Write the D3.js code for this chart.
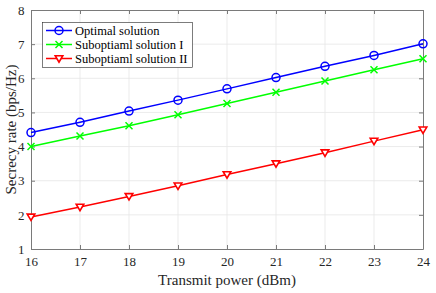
<!DOCTYPE html>
<html><head><meta charset="utf-8">
<script src="https://cdn.jsdelivr.net/npm/d3@7"></script>
<style>body{margin:0;background:#fff}svg{display:block}</style>
</head><body>
<script>
const xValues = [16,17,18,19,20,21,22,23,24];
const optimal = [4.41,4.71,5.04,5.36,5.69,6.02,6.35,6.67,7.01];
const subopt1 = [4.00,4.31,4.61,4.93,5.26,5.59,5.92,6.25,6.57];
const subopt2 = [1.94,2.23,2.54,2.85,3.18,3.50,3.82,4.16,4.49];
const seriesNames = ["Optimal solution","Suboptiaml solution I","Suboptiaml solution II"];
const xTicks = [16,17,18,19,20,21,22,23,24];
const yTicks = [1,2,3,4,5,6,7,8];

const W=436,H=293;
const m={l:31,r:13,t:10,b:44};
const svg=d3.select("body").append("svg").attr("width",W).attr("height",H);
const x=d3.scaleLinear().domain([16,24]).range([m.l,W-m.r]);
const y=d3.scaleLinear().domain([1,8]).range([H-m.b,m.t]);
const font="Liberation Serif, Times New Roman, serif";
const axCol="#7a7a7a";

// grid
svg.append("g").selectAll("line").data(xTicks.slice(1,-1)).join("line")
  .attr("x1",d=>x(d)).attr("x2",d=>x(d)).attr("y1",y(1)).attr("y2",y(8))
  .attr("stroke","#e6e6e6").attr("stroke-width",0.8);
svg.append("g").selectAll("line").data(yTicks.slice(1,-1)).join("line")
  .attr("y1",d=>y(d)).attr("y2",d=>y(d)).attr("x1",x(16)).attr("x2",x(24))
  .attr("stroke","#e6e6e6").attr("stroke-width",0.8);

// axes
const tickStyle=g=>{g.select(".domain").attr("stroke",axCol);g.selectAll(".tick line").attr("stroke",axCol);
  g.selectAll(".tick text").attr("fill","#262626").style("font-family",font).style("font-size","13px");};
svg.append("g").attr("transform",`translate(0,${y(1)})`)
  .call(d3.axisBottom(x).tickValues(xTicks).tickFormat(d3.format("d")).tickSize(-4).tickPadding(8).tickSizeOuter(0)).call(tickStyle);
svg.append("g").attr("transform",`translate(0,${y(8)})`)
  .call(d3.axisTop(x).tickValues(xTicks).tickSize(-4).tickFormat("").tickSizeOuter(0)).call(tickStyle);
svg.append("g").attr("transform",`translate(${x(16)},0)`)
  .call(d3.axisLeft(y).tickValues(yTicks).tickFormat(d3.format("d")).tickSize(-4).tickPadding(6.5).tickSizeOuter(0)).call(tickStyle);
svg.append("g").attr("transform",`translate(${x(24)},0)`)
  .call(d3.axisRight(y).tickValues(yTicks).tickSize(-4).tickFormat("").tickSizeOuter(0)).call(tickStyle);

// titles
svg.append("text").attr("x",(x(16)+x(24))/2).attr("y",285).attr("text-anchor","middle")
  .style("font-family",font).style("font-size","15px").attr("fill","#262626").text("Transmit power (dBm)");
svg.append("text").attr("transform",`translate(16,${(y(1)+y(8))/2}) rotate(-90)`).attr("text-anchor","middle")
  .style("font-family",font).style("font-size","15px").attr("fill","#262626").text("Secrecy rate (bps/Hz)");

const series=[
  {name:seriesNames[0],vals:optimal,color:"#0000ff",marker:"circle"},
  {name:seriesNames[1],vals:subopt1,color:"#00ff00",marker:"x"},
  {name:seriesNames[2],vals:subopt2,color:"#ff0000",marker:"tri"}
];
function drawMarker(g,type,color,cx,cy){
  if(type==="circle") g.append("circle").attr("cx",cx).attr("cy",cy).attr("r",4).attr("fill","none").attr("stroke",color).attr("stroke-width",1.5);
  else if(type==="x") g.append("path").attr("d",`M${cx-3.5},${cy-3.5}L${cx+3.5},${cy+3.5}M${cx-3.5},${cy+3.5}L${cx+3.5},${cy-3.5}`).attr("stroke",color).attr("stroke-width",1.5);
  else g.append("path").attr("d",`M${cx-3.8},${cy-2.8}L${cx+3.8},${cy-2.8}L${cx},${cy+3.6}Z`).attr("fill","#fff").attr("stroke",color).attr("stroke-width",1.6).attr("stroke-linejoin","miter");
}
const line=d3.line().x((d,i)=>x(xValues[i])).y(d=>y(d));
series.forEach(s=>{
  const g=svg.append("g");
  g.append("path").attr("d",line(s.vals)).attr("fill","none").attr("stroke",s.color).attr("stroke-width",1.5);
  s.vals.forEach((v,i)=>drawMarker(g,s.marker,s.color,x(xValues[i]),y(v)));
});

// legend
const lg=svg.append("g");
lg.append("rect").attr("x",42.5).attr("y",22.5).attr("width",150).attr("height",45).attr("fill","#fff").attr("stroke","#262626").attr("stroke-width",0.6);
series.forEach((s,i)=>{
  const cy=30.5+i*14;
  lg.append("line").attr("x1",46).attr("x2",72).attr("y1",cy).attr("y2",cy).attr("stroke",s.color).attr("stroke-width",1.5);
  drawMarker(lg,s.marker,s.color,59,cy);
  lg.append("text").attr("x",75).attr("y",cy+4).style("font-family",font).style("font-size","12.5px").attr("fill","#000").text(s.name);
});
</script>
</body></html>
